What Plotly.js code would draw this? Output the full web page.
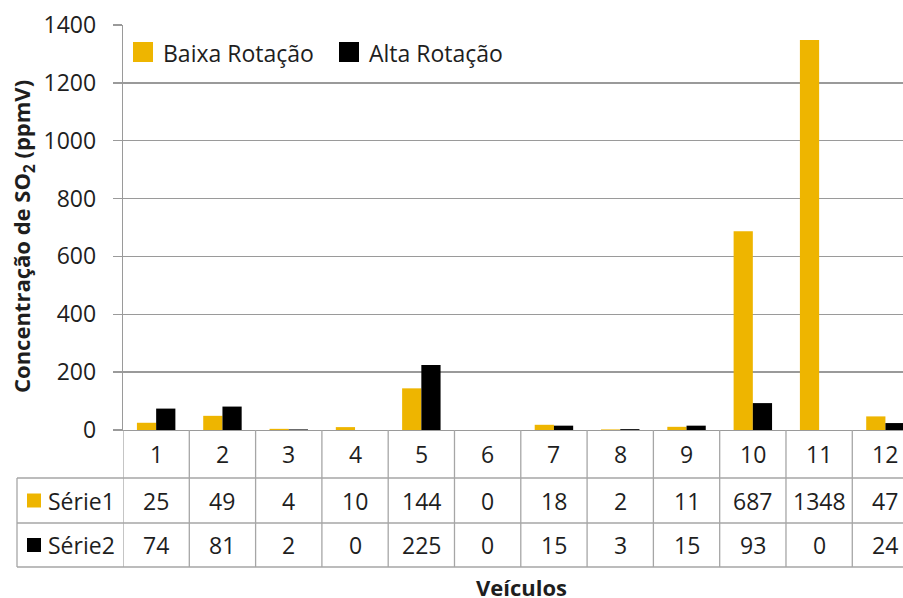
<!DOCTYPE html>
<html>
<head>
<meta charset="utf-8">
<script src="https://cdn.plot.ly/plotly-3.0.1.min.js"></script>
<style>html,body{margin:0;padding:0;background:#fff;}#chart{width:903px;height:598px;}</style>
</head>
<body>
<div id="chart"></div>
<script>
const categories = ['1','2','3','4','5','6','7','8','9','10','11','12'];
const serie1 = [25, 49, 4, 10, 144, 0, 18, 2, 11, 687, 1348, 47];
const serie2 = [74, 81, 2, 0, 225, 0, 15, 3, 15, 93, 0, 24];
const seriesNames = ['Baixa Rotação', 'Alta Rotação'];
const tableLabels = ['Série1', 'Série2'];
const yTicks = [0, 200, 400, 600, 800, 1000, 1200, 1400];

const W = 903, H = 598;
const M = {l: 123, r: 0, t: 25, b: 168};
const PW = W - M.l - M.r, PH = H - M.t - M.b;
const px2x = p => (p - M.l) / PW;          // pixel -> paper x
const px2y = p => (H - M.b - p) / PH;      // pixel -> paper y

const FONT = '"Open Sans", Lato, sans-serif';
const TXT = '#1e1e1e';
const GRID = '#9a9a9a';
const TLINE = '#a6a6a6';
const COLORS = ['#EEB500', '#000000'];

const traces = [serie1, serie2].map((vals, k) => ({
  type: 'bar', x: categories, y: vals, name: seriesNames[k],
  marker: {color: COLORS[k], line: {width: 0}}, showlegend: false, hoverinfo: 'skip'
}));

const shapes = [];
const annotations = [];
const rowB = [478, 523, 567];   // table row bottoms (px)
const rowC = [454, 500.5, 545]; // row centers (px)

rowB.forEach(b => {
  shapes.push({type:'line', xref:'paper', yref:'paper', x0:px2x(17), x1:1, y0:px2y(b), y1:px2y(b), line:{color:TLINE, width:1.3}});
});
shapes.push({type:'line', xref:'paper', yref:'paper', x0:px2x(17), x1:px2x(17), y0:px2y(rowB[0]), y1:px2y(rowB[2]), line:{color:TLINE, width:1.3}});
for (let i = 0; i <= categories.length; i++) {
  shapes.push({type:'line', xref:'x', yref:'paper', x0:i-0.5, x1:i-0.5, y0:0, y1:px2y(rowB[2]), line:{color:TLINE, width:1.3}});
}
const tblFont = {family: FONT, size: 23, color: TXT};
categories.forEach((c, i) => {
  annotations.push({xref:'x', yref:'paper', x:i, y:px2y(rowC[0]), text:c, showarrow:false, font:tblFont, xanchor:'center', yanchor:'middle'});
  annotations.push({xref:'x', yref:'paper', x:i, y:px2y(rowC[1]), text:String(serie1[i]), showarrow:false, font:tblFont, xanchor:'center', yanchor:'middle'});
  annotations.push({xref:'x', yref:'paper', x:i, y:px2y(rowC[2]), text:String(serie2[i]), showarrow:false, font:tblFont, xanchor:'center', yanchor:'middle'});
});
tableLabels.forEach((lab, k) => {
  const cy = rowC[k+1];
  shapes.push({type:'rect', xref:'paper', yref:'paper', x0:px2x(27), x1:px2x(41), y0:px2y(cy-7), y1:px2y(cy+7), fillcolor:COLORS[k], line:{width:0}});
  annotations.push({xref:'paper', yref:'paper', x:px2x(46), y:px2y(cy), text:lab, showarrow:false, font:tblFont, xanchor:'left', yanchor:'middle'});
});
const legX = [133, 339];
seriesNames.forEach((n, k) => {
  shapes.push({type:'rect', xref:'paper', yref:'paper', x0:px2x(legX[k]), x1:px2x(legX[k]+20), y0:px2y(42), y1:px2y(62), fillcolor:COLORS[k], line:{width:0}});
  annotations.push({xref:'paper', yref:'paper', x:px2x(legX[k]+28), y:px2y(53), text:n, showarrow:false, font:tblFont, xanchor:'left', yanchor:'middle'});
});
annotations.push({xref:'paper', yref:'paper', x:px2x(23), y:px2y(237), text:'<b>Concentração de SO<sub>2</sub> (ppmV)</b>', textangle:-90, showarrow:false, font:{family:FONT, size:22, color:TXT}, xanchor:'center', yanchor:'middle'});
annotations.push({xref:'paper', yref:'paper', x:px2x(521), y:px2y(587), text:'<b>Veículos</b>', showarrow:false, font:{family:FONT, size:22, color:TXT}, xanchor:'center', yanchor:'middle'});

const layout = {
  width: W, height: H, margin: M,
  paper_bgcolor: '#fff', plot_bgcolor: '#fff',
  barmode: 'group', bargap: 0.42, bargroupgap: 0,
  showlegend: false,
  xaxis: {type:'category', range:[-0.5, 11.265], showticklabels:false, ticks:'', showgrid:false, zeroline:false,
          showline:true, linecolor:GRID, linewidth:1.3, fixedrange:true},
  yaxis: {range:[0, 1400], tickvals:yTicks, ticktext:yTicks.map(String), showgrid:true, gridcolor:GRID, gridwidth:1.3,
          zeroline:false, showline:true, linecolor:GRID, linewidth:1.3, ticks:'outside', ticklen:9, tickcolor:GRID, tickwidth:1.3,
          ticklabelstandoff:12, tickfont:{family:FONT, size:23, color:TXT}, fixedrange:true},
  shapes: shapes, annotations: annotations
};
Plotly.newPlot('chart', traces, layout, {staticPlot:true, displayModeBar:false});
</script>
</body>
</html>
